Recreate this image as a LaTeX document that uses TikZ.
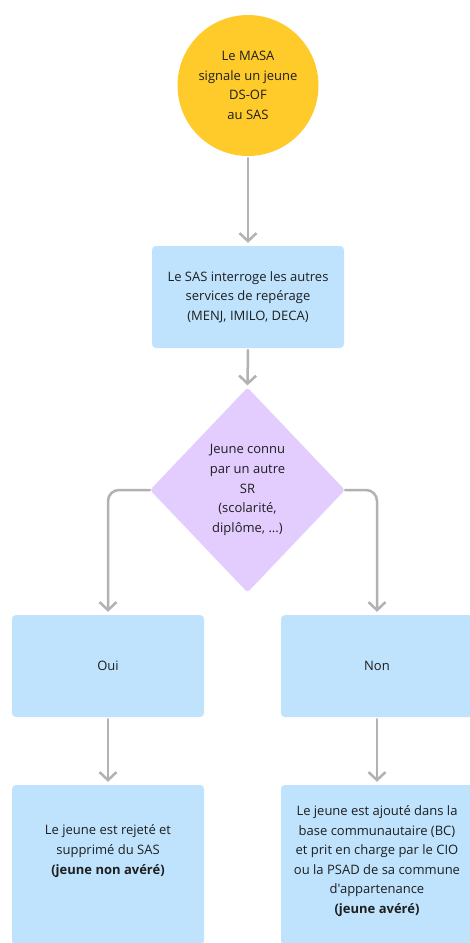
\documentclass[tikz,border=0pt]{standalone}
\usepackage{fontspec}
\setmainfont{Open Sans}[Ligatures=TeXOff]
\usetikzlibrary{arrows.meta,shapes.geometric}
\definecolor{yel}{HTML}{FFCB2B}
\definecolor{lblue}{HTML}{BFE3FD}
\definecolor{lviolet}{HTML}{E3CDFE}
\definecolor{conn}{HTML}{B2B2B2}
\definecolor{ink}{HTML}{1E1E1E}
\begin{document}
\begin{tikzpicture}[x=1pt,y=-1pt,
  txt/.style={text=ink,align=center,font=\fontsize{13}{19.6}\selectfont,inner sep=0pt},
  box/.style={txt,fill=lblue,rounded corners=4pt,minimum width=192pt,minimum height=102pt},
  flow/.style={draw=conn,line width=2.5pt,line cap=round,-{Straight Barb[length=8pt,width=17pt,line width=2.5pt]},rounded corners=11pt}
]
\useasboundingbox[fill=white] (0,0) rectangle (470,943);
\node[txt,circle,fill=yel,minimum size=141pt] (c) at (248,85.5) {Le MASA\\signale un jeune\\DS-OF\\au SAS};
\node[box] (b1) at (248,297) {Le SAS interroge les autres\\services de repérage\\(MENJ, IMILO, DECA)};
\node[txt,diamond,fill=lviolet,minimum width=195pt,minimum height=205pt,rounded corners=3pt] (d) at (247.5,490) {Jeune connu\\par un autre\\SR\\(scolarité,\\diplôme, ...)};
\node[box] (l1) at (108,666) {Oui};
\node[box] (r1) at (377,666) {Non};
\node[box,minimum height=160pt] (l2) at (108,865) {};
\node[box,minimum height=160pt] (r2) at (377,865) {};
\node[txt] (l2t) at (108,851) {Le jeune est rejeté et\\supprimé du SAS\\\textbf{(jeune non avéré)}};
\node[txt] (r2t) at (377,861) {Le jeune est ajouté dans la\\base communautaire (BC)\\et prit en charge par le CIO\\ou la PSAD de sa commune\\d'appartenance\\\textbf{(jeune avéré)}};
\draw[flow,shorten <=2pt,shorten >=3pt] (c.south) -- (b1.north);
\draw[flow,shorten <=2pt,shorten >=2pt] (b1.south) -- (d.north);
\draw[flow,shorten >=3pt] (d.west) -| (l1.north);
\draw[flow,shorten >=3pt] (d.east) -| (r1.north);
\draw[flow,shorten <=2pt,shorten >=3pt] (l1.south) -- (l2.north);
\draw[flow,shorten <=2pt,shorten >=3pt] (r1.south) -- (r2.north);
\end{tikzpicture}
\end{document}
